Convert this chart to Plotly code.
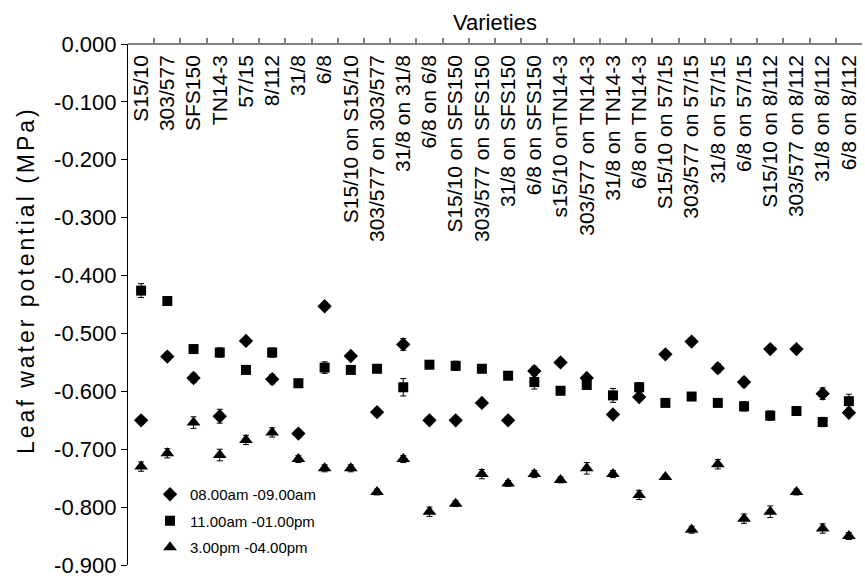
import plotly.graph_objects as go

# Grafted / own-rooted varieties along the top axis
varieties = [
    "S15/10", "303/577", "SFS150", "TN14-3", "57/15", "8/112", "31/8", "6/8",
    "S15/10 on S15/10", "303/577 on 303/577", "31/8 on 31/8", "6/8 on 6/8",
    "S15/10 on SFS150", "303/577 on SFS150", "31/8 on SFS150", "6/8 on SFS150",
    "s15/10 onTN14-3", "303/577 on TN14-3", "31/8 on TN14-3", "6/8 on TN14-3",
    "S15/10 on 57/15", "303/577 on 57/15", "31/8 on 57/15", "6/8 on 57/15",
    "S15/10 on 8/112", "303/577 on 8/112", "31/8 on 8/112", "6/8 on 8/112",
]

# Leaf water potential (MPa) at three times of day
lwp_morning = [-0.650, -0.540, -0.577, -0.643, -0.513, -0.579, -0.673, -0.453,
               -0.539, -0.636, -0.519, -0.650, -0.650, -0.620, -0.650, -0.565,
               -0.550, -0.577, -0.640, -0.610, -0.536, -0.514, -0.560, -0.584,
               -0.527, -0.527, -0.604, -0.637]
lwp_midday = [-0.426, -0.444, -0.527, -0.533, -0.563, -0.533, -0.586, -0.559,
              -0.563, -0.561, -0.593, -0.554, -0.556, -0.561, -0.573, -0.584,
              -0.599, -0.589, -0.607, -0.593, -0.620, -0.609, -0.620, -0.626,
              -0.642, -0.634, -0.653, -0.617]
lwp_afternoon = [-0.730, -0.707, -0.654, -0.710, -0.684, -0.671, -0.717, -0.733,
                 -0.733, -0.774, -0.717, -0.808, -0.794, -0.743, -0.759, -0.743,
                 -0.753, -0.733, -0.743, -0.779, -0.748, -0.839, -0.726, -0.820,
                 -0.808, -0.774, -0.837, -0.850]

# Standard errors
se_morning = [0.006, 0.006, 0.008, 0.012, 0.004, 0.008, 0.006, 0.006, 0.006, 0.006,
              0.010, 0.005, 0.005, 0.005, 0.006, 0.008, 0.005, 0.004, 0.006, 0.006,
              0.005, 0.006, 0.008, 0.008, 0.005, 0.005, 0.010, 0.005]
se_midday = [0.012, 0.006, 0.006, 0.008, 0.006, 0.008, 0.006, 0.010, 0.005, 0.006,
             0.015, 0.006, 0.008, 0.006, 0.005, 0.012, 0.005, 0.006, 0.012, 0.008,
             0.005, 0.004, 0.005, 0.008, 0.008, 0.005, 0.008, 0.012]
se_afternoon = [0.008, 0.008, 0.010, 0.010, 0.008, 0.008, 0.006, 0.006, 0.006, 0.005,
                0.006, 0.008, 0.005, 0.008, 0.005, 0.006, 0.005, 0.010, 0.006, 0.008,
                0.004, 0.006, 0.008, 0.008, 0.010, 0.005, 0.008, 0.006]

series_names = ["08.00am -09.00am", "11.00am -01.00pm", "3.00pm -04.00pm"]
y_tick_values = [0.0, -0.1, -0.2, -0.3, -0.4, -0.5, -0.6, -0.7, -0.8, -0.9]
y_tick_labels = ["0.000", "-0.100", "-0.200", "-0.300", "-0.400",
                 "-0.500", "-0.600", "-0.700", "-0.800", "-0.900"]

FONT = "Liberation Sans, Arial, sans-serif"

fig = go.Figure()
for k, (name, vals, errs, sym, sz) in enumerate(zip(
    series_names,
    [lwp_morning, lwp_midday, lwp_afternoon],
    [se_morning, se_midday, se_afternoon],
    ["diamond", "square", "triangle-up"],
    [11, 10, 12],
)):
    fig.add_trace(go.Scatter(
        x=varieties, y=vals, name=name, mode="markers", legendgroup=f"g{k}",
        marker=dict(symbol=sym, size=sz, color="black", line=dict(width=0)),
        error_y=dict(type="data", array=errs, visible=True,
                     color="black", thickness=1, width=3),
    ))

fig.update_layout(
    width=865, height=581,
    margin=dict(l=128, r=3, t=44, b=16),
    paper_bgcolor="white", plot_bgcolor="white",
    font=dict(family=FONT, color="black"),
    showlegend=True,
    legend=dict(x=0.03, y=0.167, xanchor="left", yanchor="top",
                bgcolor="rgba(0,0,0,0)", font=dict(size=15),
                traceorder="grouped", tracegroupgap=4, itemwidth=30),
    title=dict(text="Varieties", x=0.5, xref="paper", xanchor="center",
               y=1 - 22 / 581, yref="container", yanchor="middle",
               font=dict(size=22, color="black")),
    # category axis sits on the top edge with its labels hanging down into the plot
    xaxis=dict(
        type="category", side="bottom", anchor="free", position=1,
        range=[-0.5, len(varieties) - 0.5], automargin=False,
        showline=True, linecolor="#808080", linewidth=1.5,
        ticks="inside", ticklen=5, tickcolor="#808080", tickwidth=1.5,
        tickson="boundaries", dtick=1,
        tickangle=-90, ticklabelstandoff=2,
        tickfont=dict(size=21),
        showgrid=False, zeroline=False,
    ),
    yaxis=dict(
        range=[-0.9, 0], tickvals=y_tick_values, ticktext=y_tick_labels,
        showline=True, linecolor="black", linewidth=1.2,
        ticks="outside", ticklen=6, tickcolor="black",
        tickfont=dict(size=22), automargin=False,
        showgrid=False, zeroline=False,
    ),
    annotations=[dict(
        text='<span style="letter-spacing:3px">Leaf water potential (MPa)</span>',
        textangle=-90, xref="paper", yref="paper",
        x=-0.139, y=(565 - 280) / 521, xanchor="center", yanchor="middle",
        showarrow=False, font=dict(size=23, color="black"),
    )],
)

fig.write_html("out.html")
